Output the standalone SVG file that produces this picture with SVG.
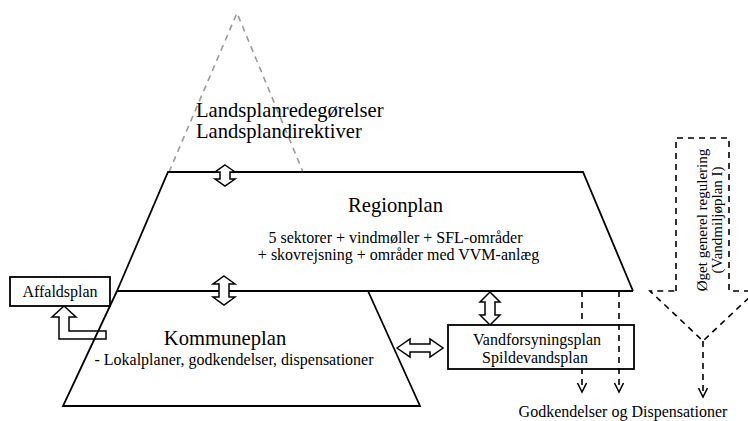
<svg xmlns="http://www.w3.org/2000/svg" width="748" height="421" viewBox="0 0 748 421">
<style>
.big{font-size:20.6px}
.mid{font-size:16px}
.small{font-size:15px}
.line{fill:none;stroke:#000;stroke-width:1.8}
.box{fill:#fff;stroke:#000;stroke-width:1.8}
.harrow{fill:#fff;stroke:#000;stroke-width:1.5;stroke-linejoin:miter}
.hollow{fill:none;stroke:#000;stroke-width:1.5;stroke-linejoin:miter}
.dash{fill:none;stroke:#000;stroke-width:1.6;stroke-dasharray:6,5}
.gray{fill:none;stroke:#999;stroke-width:1.6;stroke-dasharray:6,5}
.tip{fill:none;stroke:#000;stroke-width:1.6}
</style>
<rect width="748" height="421" fill="#fff"/>
<g font-family="'Liberation Serif', 'Times New Roman', 'DejaVu Serif', serif" fill="#000">

<g id="landsplan">
<polyline class="gray" points="169,172 237,13 303,172"/>
<text class="big" x="196" y="117" font-family="Liberation Serif, serif">Landsplanredegørelser</text>
<text class="big" x="196" y="138" font-family="Liberation Serif, serif">Landsplandirektiver</text>
</g>

<g id="regionplan">
<polyline class="line" points="633,291 583,172 168,172 117,291 633,291"/>
<text class="big" x="395.5" y="212" text-anchor="middle" font-family="Liberation Serif, serif">Regionplan</text>
<text class="mid" x="395.5" y="243" text-anchor="middle" font-family="Liberation Serif, serif">5 sektorer + vindmøller + SFL-områder</text>
<text class="mid" x="398.5" y="260" text-anchor="middle" font-family="Liberation Serif, serif">+ skovrejsning + områder med VVM-anlæg</text>
</g>

<g id="kommuneplan">
<polyline class="line" points="117,291 63,406 420,406 368,291"/>
<text class="big" x="225" y="345" text-anchor="middle" font-family="Liberation Serif, serif">Kommuneplan</text>
<text class="mid" x="234" y="365" text-anchor="middle" font-family="Liberation Serif, serif">- Lokalplaner, godkendelser, dispensationer</text>
</g>

<g id="affaldsplan">
<rect class="box" x="10" y="277" width="100" height="29"/>
<text class="mid" x="60" y="297" text-anchor="middle" font-family="Liberation Serif, serif">Affaldsplan</text>
</g>

<g id="connectors">
<path class="hollow" d="M64,306 L76,317 L69,317 L69,331 L106,331 L106,339 L59,339 L59,317 L52,317 Z"/>
<path class="harrow" d="M225,165 L235,172 L230,172 L230,179 L235,179 L225,186 L215,179 L220,179 L220,172 L215,172 Z"/>
<path class="harrow" d="M224,276 L235,284 L229,284 L229,297 L235,297 L224,305 L213,297 L219,297 L219,284 L213,284 Z"/>
<path class="harrow" d="M490,292 L500,302 L495,302 L495,315 L500,315 L490,325 L480,315 L485,315 L485,302 L480,302 Z"/>
<path class="harrow" d="M397,348 L410,339 L410,344 L430,344 L430,339 L443,348 L430,357 L430,352 L410,352 L410,357 Z"/>
<line class="dash" x1="582" y1="291" x2="582" y2="391"/>
<polyline class="tip" points="577.5,383 582,392 586.5,383"/>
<polyline class="tip" points="614.5,383 619,392 623.5,383"/>
<polyline class="tip" points="698.5,388 703,397 707.5,388"/>
</g>

<g id="vandforsyning">
<rect class="box" x="448" y="325" width="186" height="44"/>
<text class="mid" x="537" y="345" text-anchor="middle" font-family="Liberation Serif, serif">Vandforsyningsplan</text>
<text class="mid" x="535" y="363" text-anchor="middle" font-family="Liberation Serif, serif">Spildevandsplan</text>
</g>

<g id="connectors2">
<line class="dash" x1="619" y1="291" x2="619" y2="391"/>
</g>

<g id="regulering">
<path class="dash" d="M676,291 L676,138 L729,138 L729,291 L756,291 L703,341 L650,291 Z"/>
<line class="dash" x1="703" y1="341" x2="703" y2="396"/>
<text class="small" transform="translate(707,220) rotate(-90)" text-anchor="middle" font-family="Liberation Serif, serif">Øget generel regulering</text>
<text class="small" transform="translate(722,220) rotate(-90)" text-anchor="middle" font-family="Liberation Serif, serif">(Vandmiljøplan I)</text>
</g>

<g id="godkendelser">
<text class="mid" x="623" y="416.5" text-anchor="middle" font-family="Liberation Serif, serif">Godkendelser og Dispensationer</text>
</g>
</g>
</svg>
